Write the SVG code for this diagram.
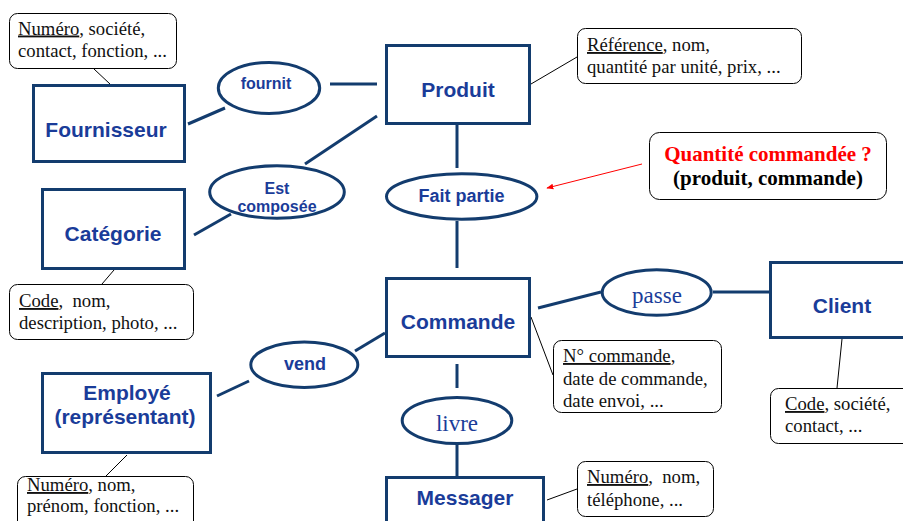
<svg xmlns="http://www.w3.org/2000/svg" width="903" height="521" viewBox="0 0 903 521">
<style>
.ent{fill:#ffffff;stroke:#133C6E;stroke-width:3}
.rel{fill:#ffffff;stroke:#133C6E;stroke-width:3}
.note{fill:#ffffff;stroke:#000000;stroke-width:1}
.et{font-family:"Liberation Sans",Arial,sans-serif;font-weight:bold;font-size:21px;fill:#1A3C99;text-anchor:middle}
.rt{font-family:"Liberation Sans",Arial,sans-serif;font-weight:bold;fill:#1A3C99;text-anchor:middle}
.rs{font-family:"Liberation Serif","Times New Roman",serif;font-size:23px;fill:#1A3C99;text-anchor:middle}
.nt{font-family:"Liberation Serif","Times New Roman",serif;font-size:18.7px;fill:#111111;white-space:pre}
.u{text-decoration:underline}
.conn line{stroke:#133C6E;stroke-width:3}
.thin line{stroke:#000000;stroke-width:1}
</style>
<defs>
<marker id="redArrow" viewBox="0 0 10 10" refX="9" refY="5" markerWidth="7" markerHeight="7" orient="auto" markerUnits="userSpaceOnUse">
<path d="M0,1 L10,5 L0,9 z" fill="#FF0000"/>
</marker>
</defs>
<rect x="0" y="0" width="903" height="521" fill="#ffffff"/>

<g id="connectors">
<g class="conn">
<line x1="188" y1="124" x2="225" y2="108"/>
<line x1="330" y1="84" x2="377" y2="84"/>
<line x1="377" y1="116" x2="305" y2="164"/>
<line x1="231" y1="214" x2="194" y2="235"/>
<line x1="457" y1="125" x2="457" y2="168"/>
<line x1="457" y1="221" x2="457" y2="268"/>
<line x1="538" y1="308" x2="601" y2="292"/>
<line x1="713" y1="292" x2="769" y2="292"/>
<line x1="457" y1="364" x2="457" y2="388"/>
<line x1="457" y1="445" x2="457" y2="476"/>
<line x1="385" y1="333" x2="355" y2="351"/>
<line x1="249" y1="381" x2="217" y2="396"/>
</g>
<g class="thin">
<line x1="94" y1="69" x2="110" y2="84"/>
<line x1="531" y1="84" x2="577" y2="57"/>
<line x1="102" y1="284" x2="114" y2="270"/>
<line x1="531" y1="317" x2="553" y2="375"/>
<line x1="842" y1="339" x2="837" y2="388"/>
<line x1="547" y1="500" x2="577" y2="489"/>
<line x1="127" y1="455" x2="106" y2="476"/>
</g>
<line x1="642" y1="164" x2="547" y2="188" stroke="#FF0000" stroke-width="1" marker-end="url(#redArrow)"/>
</g>

<g id="fournisseur">
<rect class="ent" x="33.5" y="85.5" width="151" height="76"/>
<text class="et" x="106" y="137">Fournisseur</text>
</g>
<g id="produit">
<rect class="ent" x="386.5" y="45.5" width="143" height="78"/>
<text class="et" x="458" y="97">Produit</text>
</g>
<g id="categorie">
<rect class="ent" x="42.5" y="189.5" width="142" height="79"/>
<text class="et" x="113" y="241">Catégorie</text>
</g>
<g id="commande">
<rect class="ent" x="386.5" y="278.5" width="143" height="78"/>
<text class="et" x="458" y="329">Commande</text>
</g>
<g id="client">
<rect class="ent" x="770.5" y="262.5" width="150" height="75"/>
<text class="et" x="842" y="313">Client</text>
</g>
<g id="messager">
<rect class="ent" x="386.5" y="477.5" width="157" height="60"/>
<text class="et" x="465" y="505">Messager</text>
</g>
<g id="employe">
<rect class="ent" x="42.5" y="373.5" width="168" height="79"/>
<text class="et" x="127" y="400">Employé</text>
<text class="et" x="125" y="424">(représentant)</text>
</g>

<g id="fournit">
<ellipse class="rel" cx="269" cy="88" rx="50.7" ry="25.5"/>
<text class="rt" x="266" y="89" font-size="16">fournit</text>
</g>
<g id="est-composee">
<ellipse class="rel" cx="277" cy="192" rx="67.3" ry="26.3"/>
<text class="rt" x="277" y="194" font-size="16">Est</text>
<text class="rt" x="277" y="212" font-size="16">composée</text>
</g>
<g id="fait-partie">
<ellipse class="rel" cx="461.7" cy="196.5" rx="75.2" ry="22.7"/>
<text class="rt" x="461.5" y="202" font-size="18">Fait partie</text>
</g>
<g id="passe">
<ellipse class="rel" cx="656.7" cy="292.5" rx="54.5" ry="22.7"/>
<text class="rs" x="657" y="303">passe</text>
</g>
<g id="livre">
<ellipse class="rel" cx="457" cy="420.5" rx="54.8" ry="23"/>
<text class="rs" x="457" y="431">livre</text>
</g>
<g id="vend">
<ellipse class="rel" cx="304.3" cy="364.8" rx="53.5" ry="22.7"/>
<text class="rt" x="305" y="370" font-size="18">vend</text>
</g>

<g id="note-fournisseur">
<rect class="note" x="9.5" y="13.5" width="167" height="55" rx="8"/>
<text class="nt" x="18" y="34.5"><tspan class="u">Numéro</tspan>, société,</text>
<text class="nt" x="18" y="57">contact, fonction, ...</text>
</g>
<g id="note-produit">
<rect class="note" x="577.5" y="28.5" width="224" height="55" rx="8"/>
<text class="nt" x="587" y="51"><tspan class="u">Référence</tspan>, nom,</text>
<text class="nt" x="587" y="73">quantité par unité, prix, ...</text>
</g>
<g id="note-categorie">
<rect class="note" x="9.5" y="284.5" width="184" height="55" rx="8"/>
<text class="nt" x="19" y="307" xml:space="preserve"><tspan class="u">Code</tspan>,  nom,</text>
<text class="nt" x="19" y="329">description, photo, ...</text>
</g>
<g id="note-commande">
<rect class="note" x="553.5" y="340.5" width="168" height="72" rx="8"/>
<text class="nt" x="563" y="362"><tspan class="u">N° commande</tspan>,</text>
<text class="nt" x="563" y="385">date de commande,</text>
<text class="nt" x="563" y="407">date envoi, ...</text>
</g>
<g id="note-client">
<rect class="note" x="770.5" y="388.5" width="150" height="55" rx="8"/>
<text class="nt" x="785" y="410"><tspan class="u">Code</tspan>, société,</text>
<text class="nt" x="785" y="432">contact, ...</text>
</g>
<g id="note-messager">
<rect class="note" x="577.5" y="461.5" width="136" height="55" rx="8"/>
<text class="nt" x="587" y="483" xml:space="preserve"><tspan class="u">Numéro</tspan>,  nom,</text>
<text class="nt" x="587" y="506">téléphone, ...</text>
</g>
<g id="note-employe">
<rect class="note" x="17.5" y="476.5" width="176" height="55" rx="8"/>
<text class="nt" x="27" y="491"><tspan class="u">Numéro</tspan>, nom,</text>
<text class="nt" x="27" y="512">prénom, fonction, ...</text>
</g>
<g id="note-quantite">
<rect class="note" x="649.5" y="132.5" width="237" height="67" rx="10"/>
<text x="768" y="161" font-family="'Liberation Serif','Times New Roman',serif" font-weight="bold" font-size="21" fill="#FF0000" text-anchor="middle">Quantité commandée ?</text>
<text x="768" y="185" font-family="'Liberation Serif','Times New Roman',serif" font-weight="bold" font-size="21" fill="#000000" text-anchor="middle">(produit, commande)</text>
</g>
</svg>
